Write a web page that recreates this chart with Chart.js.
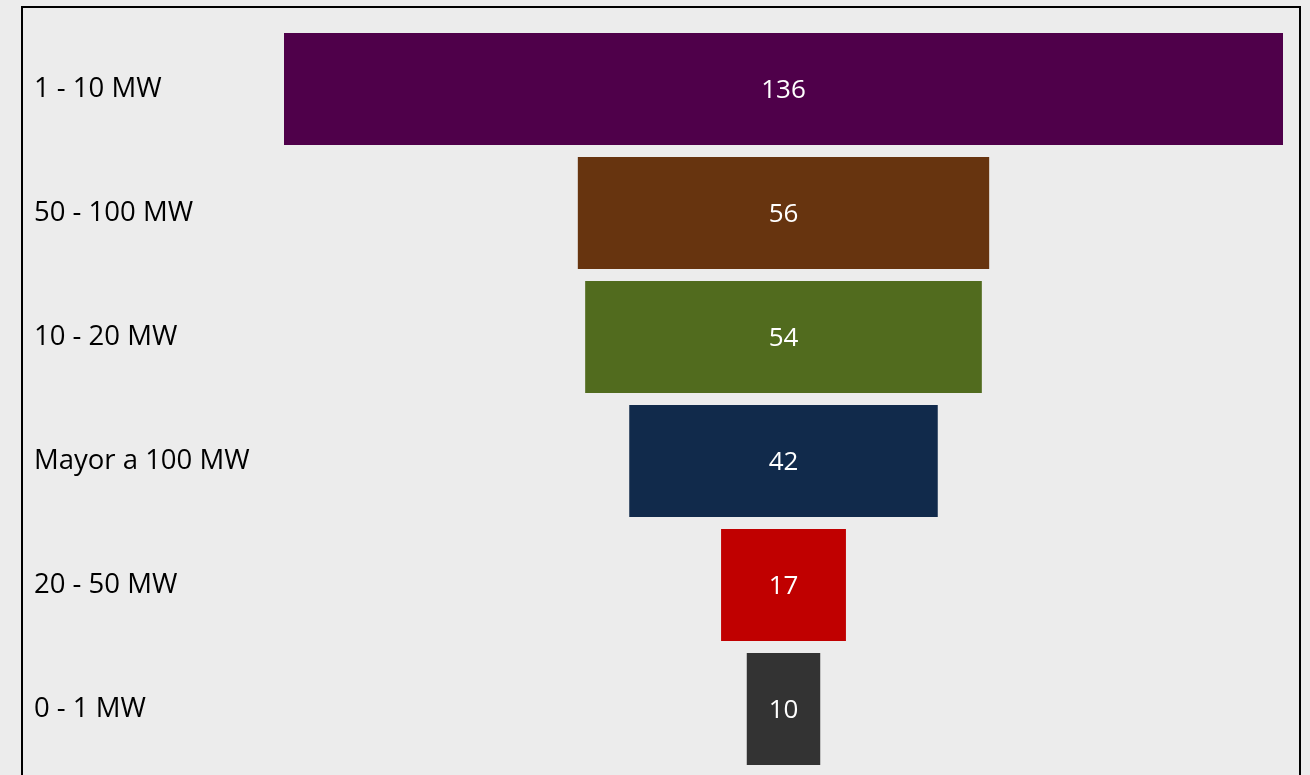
<!DOCTYPE html>
<html>
<head>
<meta charset="utf-8">
<script src="https://cdn.jsdelivr.net/npm/chart.js@4/dist/chart.umd.min.js"></script>
<style>
  html, body { margin: 0; padding: 0; background: #ececec; overflow: hidden; }
  #wrap { position: relative; width: 1310px; height: 775px; }
</style>
</head>
<body>
<div id="wrap"><canvas id="funnel"></canvas></div>
<script>
(function() {
  'use strict';

  var categories = ['1 - 10 MW', '50 - 100 MW', '10 - 20 MW', 'Mayor a 100 MW', '20 - 50 MW', '0 - 1 MW'];
  var values = [136, 56, 54, 42, 17, 10];
  var barColors = ['#4f004a', '#67340f', '#516b1e', '#112a4b', '#c00000', '#333333'];

  var FONT = '"Open Sans", "Liberation Sans", sans-serif';
  var maxVal = Math.max.apply(null, values);

  // funnel: every bar floats symmetric around zero
  var spans = values.map(function(v) { return [-v / 2, v / 2]; });

  var framePlugin = {
    id: 'frame',
    beforeDraw: function(chart) {
      var ctx = chart.ctx;
      ctx.save();
      ctx.fillStyle = '#ececec';
      ctx.fillRect(0, 0, chart.width, chart.height);
      ctx.strokeStyle = '#000';
      ctx.lineWidth = 2;
      ctx.strokeRect(22, 7, 1278, 820);
      ctx.restore();
    }
  };

  var valueLabels = {
    id: 'valueLabels',
    afterDatasetsDraw: function(chart) {
      var ctx = chart.ctx;
      var meta = chart.getDatasetMeta(0);
      ctx.save();
      ctx.fillStyle = '#ffffff';
      ctx.font = '26px ' + FONT;
      ctx.textAlign = 'center';
      ctx.textBaseline = 'middle';
      meta.data.forEach(function(bar, i) {
        var c = bar.getCenterPoint();
        ctx.fillText(String(values[i]), c.x, c.y + 2);
      });
      ctx.restore();
    }
  };

  new Chart(document.getElementById('funnel'), {
    type: 'bar',
    data: {
      labels: categories,
      datasets: [{
        data: spans,
        backgroundColor: barColors,
        borderWidth: 0,
        categoryPercentage: 1,
        barPercentage: 0.903
      }]
    },
    options: {
      indexAxis: 'y',
      responsive: true,
      maintainAspectRatio: false,
      animation: false,
      layout: { padding: { left: 34, right: 27, top: 27, bottom: 4 } },
      plugins: {
        legend: { display: false },
        tooltip: { enabled: false }
      },
      scales: {
        x: {
          display: false,
          min: -maxVal / 2,
          max: maxVal / 2,
          grid: { display: false }
        },
        y: {
          grid: { display: false },
          border: { display: false },
          afterFit: function(scale) {
            scale.width = 250;
            scale.paddingTop = 0;
            scale.paddingBottom = 0;
          },
          ticks: {
            crossAlign: 'far',
            padding: 0,
            color: '#000000',
            font: { family: FONT, size: 27.5 }
          }
        }
      }
    },
    plugins: [framePlugin, valueLabels]
  });
})();
</script>
</body>
</html>
